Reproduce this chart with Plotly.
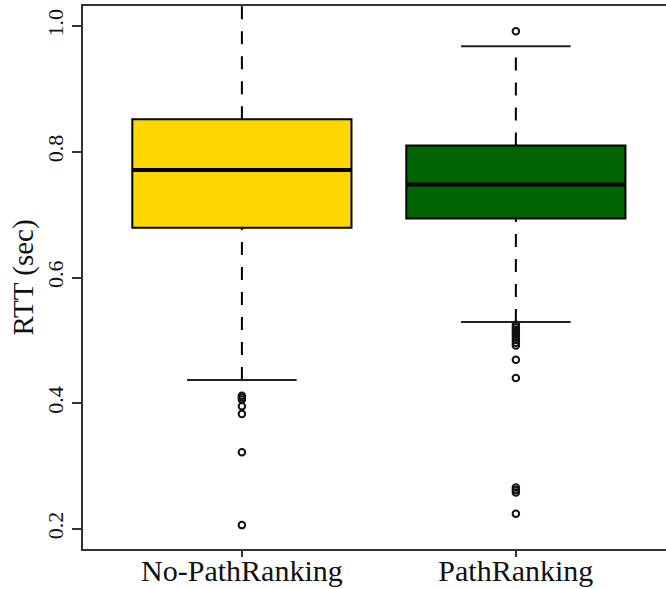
import plotly.graph_objects as go

categories = ["No-PathRanking", "PathRanking"]
positions = [1, 2]
q1 = [0.679, 0.694]
median = [0.771, 0.748]
q3 = [0.852, 0.810]
lower_whisker = [0.437, 0.529]
upper_whisker = [1.06, 0.968]
outliers = [
    [0.412, 0.409, 0.406, 0.395, 0.383, 0.322, 0.206],
    [0.992, 0.525, 0.521, 0.517, 0.513, 0.509, 0.505, 0.501, 0.496, 0.492,
     0.469, 0.440, 0.266, 0.262, 0.258, 0.224],
]
fill_colors = ["#FFD700", "#006400"]
y_tickvals = [0.2, 0.4, 0.6, 0.8, 1.0]
y_ticktext = ["0.2", "0.4", "0.6", "0.8", "1.0"]
y_title = "RTT (sec)"

BOXW = 0.8
CAPW = 0.4
SERIF = "Liberation Serif"

fig = go.Figure()
for i, pos in enumerate(positions):
    # whiskers (dashed)
    fig.add_trace(go.Scatter(x=[pos, pos], y=[q3[i], upper_whisker[i]], mode="lines",
                             line=dict(color="black", width=2, dash="13px,12px"),
                             hoverinfo="skip", showlegend=False))
    fig.add_trace(go.Scatter(x=[pos, pos], y=[lower_whisker[i], q1[i]], mode="lines",
                             line=dict(color="black", width=2, dash="13px,12px"),
                             hoverinfo="skip", showlegend=False))
    # caps
    for w in (upper_whisker[i], lower_whisker[i]):
        fig.add_trace(go.Scatter(x=[pos - CAPW / 2, pos + CAPW / 2], y=[w, w], mode="lines",
                                 line=dict(color="#222", width=2),
                                 hoverinfo="skip", showlegend=False))
    # box
    fig.add_trace(go.Box(x=[pos], q1=[q1[i]], median=[median[i]], q3=[q3[i]],
                         lowerfence=[q1[i]], upperfence=[q3[i]], width=BOXW,
                         fillcolor=fill_colors[i], line=dict(color="black", width=2),
                         whiskerwidth=0, boxpoints=False, showlegend=False, name=categories[i]))
    # median
    fig.add_trace(go.Scatter(x=[pos - BOXW / 2, pos + BOXW / 2], y=[median[i], median[i]],
                             mode="lines", line=dict(color="black", width=4),
                             hoverinfo="skip", showlegend=False))
    # outliers
    fig.add_trace(go.Scatter(x=[pos] * len(outliers[i]), y=outliers[i], mode="markers",
                             marker=dict(symbol="circle-open", size=6.5, color="#111",
                                         line=dict(width=2)),
                             showlegend=False))

fig.update_layout(
    width=666, height=589,
    margin=dict(l=83, r=0, t=6, b=40),
    plot_bgcolor="white", paper_bgcolor="white",
    font=dict(family=SERIF, color="#111"),
    showlegend=False,
    annotations=[dict(text=y_title, xref="paper", yref="paper", x=0, y=0.5,
                      xanchor="center", yanchor="middle", xshift=-60, textangle=-90,
                      showarrow=False, font=dict(size=29, family=SERIF, color="#111"))],
)
fig.update_xaxes(range=[0.42, 2.548], tickvals=positions, ticktext=categories,
                 showline=True, linecolor="#333", linewidth=2, mirror=True,
                 ticks="outside", ticklen=6, tickwidth=2, tickcolor="#333",
                 showgrid=False, zeroline=False, automargin=False,
                 ticklabelstandoff=-12,
                 tickfont=dict(size=30, family=SERIF))
fig.update_yaxes(range=[0.168, 1.032], tickvals=y_tickvals, ticktext=y_ticktext,
                 showline=True, linecolor="#333", linewidth=2, mirror=False,
                 ticks="outside", ticklen=9, tickwidth=2, tickcolor="#333",
                 showgrid=False, zeroline=False, tickangle=-90, automargin=False,
                 tickfont=dict(size=22, family=SERIF))

fig.write_html("out.html", config={"displayModeBar": False},
               post_script="document.body.style.margin='0';document.body.style.overflow='hidden';")
